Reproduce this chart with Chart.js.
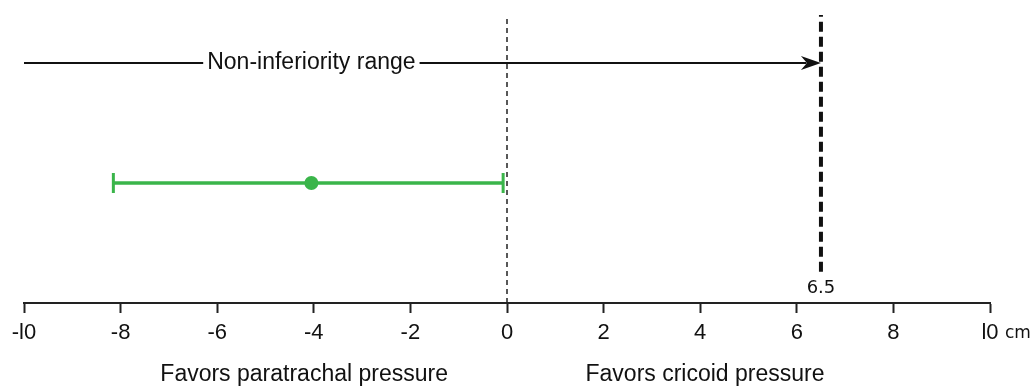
<!DOCTYPE html>
<html>
<head>
<meta charset="utf-8">
<script src="https://cdn.jsdelivr.net/npm/chart.js@4"></script>
<style>
  html, body { margin: 0; padding: 0; background: #fff; }
  #wrap { width: 1031px; height: 386px; position: relative; }
</style>
</head>
<body>
<div id="wrap"><canvas id="chart"></canvas></div>
<script>
// axis
const tickValues = [-10, -8, -6, -4, -2, 0, 2, 4, 6, 8, 10];
const tickLabels = ['-l0', '-8', '-6', '-4', '-2', '0', '2', '4', '6', '8', 'l0'];

// result: mean difference with confidence interval
const ciValues = [-8.15, -4.05, -0.08];
const ciRow = 2.5;

// non-inferiority margin and range
const margin = 6.5;
const rangeStart = -10;
const rangeRow = 5;
const rangeLabel = 'Non-inferiority range';
const sideLabels = ['Favors paratrachal pressure', 'Favors cricoid pressure'];

const GREEN = 'rgb(58, 181, 74)';
const TEXT_FONT = '"Liberation Sans", Arial, sans-serif';

const annotations = {
    id: 'annotations',
    afterDatasetsDraw(chart) {
        const { ctx } = chart;
        const x = chart.scales.x;
        const y = chart.scales.y;
        ctx.save();

        // arrow head at the margin
        const tipX = x.getPixelForValue(margin);
        const tipY = y.getPixelForValue(rangeRow);
        ctx.fillStyle = '#111';
        ctx.beginPath();
        ctx.moveTo(tipX, tipY);
        ctx.lineTo(tipX - 20, tipY - 7);
        ctx.lineTo(tipX - 14, tipY);
        ctx.lineTo(tipX - 20, tipY + 7);
        ctx.closePath();
        ctx.fill();

        // range label with white box over the arrow line
        ctx.font = '23px ' + TEXT_FONT;
        const lx = x.getPixelForValue(-4.05);
        const w = ctx.measureText(rangeLabel).width;
        ctx.fillStyle = '#fff';
        ctx.fillRect(lx - w / 2 - 4, tipY - 13, w + 8, 26);
        ctx.fillStyle = '#111';
        ctx.textAlign = 'center';
        ctx.textBaseline = 'middle';
        ctx.fillText(rangeLabel, lx, tipY);

        // margin value
        ctx.font = '18px "DejaVu Sans", sans-serif';
        ctx.fillText('6.5', tipX, y.getPixelForValue(0) - 15);

        // unit
        ctx.font = '17px "DejaVu Sans", sans-serif';
        ctx.textAlign = 'left';
        ctx.fillText('cm', x.getPixelForValue(10) + 15, 334);

        // side labels
        ctx.font = '23px ' + TEXT_FONT;
        ctx.textAlign = 'center';
        ctx.fillText(sideLabels[0], x.getPixelForValue(-4.2), 375);
        ctx.fillText(sideLabels[1], x.getPixelForValue(4.1), 375);

        ctx.restore();
    }
};

new Chart(document.getElementById('chart'), {
    type: 'line',
    data: {
        datasets: [
            {
                // zero line
                data: [{ x: 0, y: 0 }, { x: 0, y: 6 }],
                borderColor: '#222',
                borderWidth: 1.5,
                borderDash: [5, 4],
                pointRadius: 0
            },
            {
                // margin line
                data: [{ x: margin, y: 0.65 }, { x: margin, y: 6 }],
                borderColor: '#111',
                borderWidth: 4,
                borderDash: [10, 5],
                pointRadius: 0
            },
            {
                // non-inferiority range arrow
                data: [{ x: rangeStart, y: rangeRow }, { x: margin - 0.3, y: rangeRow }],
                borderColor: '#111',
                borderWidth: 2,
                pointRadius: 0
            },
            {
                data: ciValues.map(v => ({ x: v, y: ciRow })),
                borderColor: GREEN,
                borderWidth: 3.5,
                pointStyle: ['line', 'circle', 'line'],
                rotation: [90, 0, 90],
                pointRadius: [10, 7, 10],
                pointBorderWidth: [3, 0, 3],
                pointBorderColor: GREEN,
                pointBackgroundColor: GREEN
            }
        ]
    },
    options: {
        responsive: true,
        maintainAspectRatio: false,
        animation: false,
        layout: { padding: { left: 24, right: 41, top: 15, bottom: 0 } },
        plugins: {
            legend: { display: false },
            tooltip: { enabled: false }
        },
        scales: {
            x: {
                type: 'linear',
                min: -10,
                max: 10,
                afterBuildTicks: s => { s.ticks = tickValues.map(v => ({ value: v })); },
                afterFit: s => { s.height = 83; },
                border: { display: true, color: '#222', width: 2 },
                grid: {
                    drawOnChartArea: false,
                    drawTicks: true,
                    tickLength: 10,
                    tickWidth: 2,
                    tickColor: '#222'
                },
                ticks: {
                    color: '#111',
                    padding: 7,
                    maxRotation: 0,
                    font: { family: TEXT_FONT, size: 22 },
                    callback: (v) => tickLabels[tickValues.indexOf(v)]
                }
            },
            y: {
                type: 'linear',
                min: 0,
                max: 6,
                display: false
            }
        }
    },
    plugins: [annotations]
});
</script>
</body>
</html>
